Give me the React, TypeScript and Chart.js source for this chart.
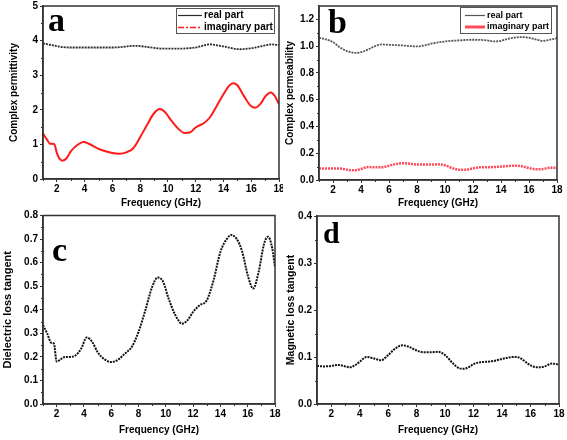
import React, { useEffect, useRef } from "react";
import { Chart, registerables } from "chart.js";

Chart.register(...registerables);

const SANS = "'Liberation Sans', Arial, sans-serif";

// ---------- data ----------
const xTickValues = [2, 4, 6, 8, 10, 12, 14, 16, 18];

// (a) complex permittivity
const freqRealA = [1, 1.5, 2, 2.5, 3, 4, 5, 6, 7, 7.5, 8, 9, 9.5, 10, 11, 11.5, 12, 13, 14, 15.2, 16, 17, 17.4, 18];
const realA = [3.92, 3.88, 3.84, 3.81, 3.8, 3.8, 3.8, 3.8, 3.83, 3.85, 3.84, 3.79, 3.77, 3.77, 3.77, 3.78, 3.8, 3.89, 3.83, 3.75, 3.78, 3.86, 3.89, 3.87];
const freqImagA = [1, 1.3, 1.5, 1.8, 2.0, 2.2, 2.4, 2.7, 3.0, 3.5, 3.9, 4.3, 5, 5.5, 6, 6.5, 7, 7.5, 8, 8.5, 9, 9.4, 9.8, 10.2, 10.7, 11.2, 11.6, 12, 12.6, 13, 13.5, 14, 14.4, 14.7, 15, 15.5, 16, 16.3, 16.7, 17, 17.4, 17.7, 18];
const imagA = [1.31, 1.13, 1.02, 1.01, 0.75, 0.58, 0.53, 0.6, 0.8, 0.99, 1.07, 1.02, 0.87, 0.8, 0.75, 0.73, 0.77, 0.89, 1.21, 1.57, 1.9, 2.02, 1.93, 1.71, 1.47, 1.33, 1.35, 1.49, 1.62, 1.77, 2.1, 2.45, 2.69, 2.77, 2.71, 2.38, 2.1, 2.06, 2.19, 2.38, 2.5, 2.4, 2.16];
const yTicksA = [0, 1, 2, 3, 4, 5];

// (b) complex permeability
const freqRealB = [1, 1.5, 2, 2.5, 3, 3.6, 4, 4.5, 5, 5.5, 6, 7, 8, 8.5, 9, 10, 11, 12, 13, 13.5, 14, 14.5, 15.5, 16, 16.5, 17, 17.5, 18];
const realB = [1.063, 1.05, 1.03, 0.99, 0.963, 0.95, 0.955, 0.975, 1.0, 1.013, 1.01, 1.005, 0.998, 1.005, 1.018, 1.035, 1.043, 1.048, 1.043, 1.035, 1.04, 1.055, 1.068, 1.063, 1.05, 1.04, 1.048, 1.06];
const freqImagB = [1, 2, 2.5, 3, 3.5, 4, 4.5, 5, 5.5, 6, 6.5, 7, 7.5, 8, 9, 9.5, 10, 10.5, 11, 11.5, 12, 12.5, 13, 14, 15, 15.5, 16, 16.5, 17, 17.5, 18];
const imagB = [0.087, 0.085, 0.085, 0.077, 0.072, 0.082, 0.097, 0.095, 0.095, 0.107, 0.12, 0.125, 0.122, 0.115, 0.115, 0.117, 0.11, 0.09, 0.077, 0.077, 0.087, 0.095, 0.095, 0.1, 0.107, 0.102, 0.09, 0.08, 0.082, 0.092, 0.09];
const yTicksB = [0, 0.2, 0.4, 0.6, 0.8, 1.0, 1.2];

// (c) dielectric loss tangent
const freqC = [1, 1.3, 1.6, 1.8, 2.0, 2.3, 2.6, 3, 3.4, 3.8, 4.2, 4.6, 5, 5.5, 6, 6.5, 7, 7.5, 8, 8.5, 9, 9.4, 9.8, 10.2, 10.7, 11.2, 11.6, 12, 12.5, 13, 13.5, 14, 14.5, 14.8, 15.2, 15.6, 16, 16.4, 16.8, 17.2, 17.5, 17.8, 18];
const lossC = [0.334, 0.3, 0.26, 0.256, 0.18, 0.19, 0.2, 0.2, 0.207, 0.235, 0.282, 0.264, 0.22, 0.19, 0.178, 0.188, 0.214, 0.242, 0.306, 0.398, 0.497, 0.537, 0.519, 0.448, 0.377, 0.341, 0.356, 0.391, 0.42, 0.44, 0.526, 0.646, 0.703, 0.717, 0.7, 0.646, 0.547, 0.49, 0.56, 0.68, 0.71, 0.66, 0.58];
const yTicksC = [0, 0.1, 0.2, 0.3, 0.4, 0.5, 0.6, 0.7, 0.8];

// (d) magnetic loss tangent
const freqD = [1, 1.5, 2, 2.5, 3, 3.3, 3.7, 4, 4.5, 5, 5.5, 6, 6.5, 7, 7.5, 8, 8.5, 9, 9.5, 10, 10.5, 11, 11.3, 11.7, 12, 12.5, 13, 13.5, 14, 14.8, 15.2, 15.5, 16, 16.5, 17, 17.5, 18];
const lossD = [0.081, 0.08, 0.081, 0.083, 0.08, 0.078, 0.083, 0.09, 0.1, 0.097, 0.093, 0.104, 0.118, 0.125, 0.121, 0.114, 0.11, 0.11, 0.111, 0.104, 0.088, 0.076, 0.075, 0.079, 0.085, 0.089, 0.09, 0.092, 0.096, 0.1, 0.099, 0.093, 0.082, 0.078, 0.08, 0.086, 0.084];
const yTicksD = [0, 0.1, 0.2, 0.3, 0.4];

const pts = (xs: number[], ys: number[]) => xs.map((x, i) => ({ x, y: ys[i] }));

// ---------- plugin: frame, minor ticks, panel letter, boxed legend ----------
const decorPlugin = {
  id: "decor",
  afterDraw(chart: any, _args: any, opts: any) {
    const { ctx, chartArea } = chart;
    const { left, top, right, bottom } = chartArea;
    const xs = chart.scales.x;
    const ys = chart.scales.y;
    ctx.save();
    ctx.strokeStyle = "#333";
    ctx.lineWidth = 1;
    // minor x ticks
    for (let v = xs.min; v <= xs.max + 1e-9; v += 1) {
      if (xTickValues.includes(v)) continue;
      const px = Math.round(xs.getPixelForValue(v)) + 0.5;
      ctx.beginPath();
      ctx.moveTo(px, bottom);
      ctx.lineTo(px, bottom + 2);
      ctx.stroke();
    }
    // minor y ticks
    for (let v = ys.min + opts.yMinor; v < ys.max - 1e-9; v += opts.yMinor * 2) {
      const py = Math.round(ys.getPixelForValue(v)) + 0.5;
      ctx.beginPath();
      ctx.moveTo(left - 2, py);
      ctx.lineTo(left, py);
      ctx.stroke();
    }
    // frame
    ctx.lineWidth = 1.5;
    ctx.strokeStyle = "#333";
    ctx.strokeRect(left, top, right - left, bottom - top);
    // panel letter
    ctx.fillStyle = "#000";
    ctx.font = `bold ${opts.letterSize}px 'Liberation Serif', 'Times New Roman', serif`;
    ctx.textBaseline = "alphabetic";
    ctx.textAlign = "left";
    ctx.fillText(opts.letter, opts.letterX, opts.letterY);
    // legend
    const lg = opts.legend;
    if (lg) {
      ctx.lineWidth = 1;
      ctx.strokeStyle = "#555";
      ctx.setLineDash([]);
      ctx.strokeRect(lg.x + 0.5, lg.y + 0.5, lg.w, lg.h);
      chart.data.datasets.forEach((ds: any, i: number) => {
        const y = lg.rows[i];
        ctx.save();
        ctx.strokeStyle = ds.borderColor;
        ctx.lineWidth = lg.sampleWidths[i];
        ctx.setLineDash(lg.sampleDash[i]);
        ctx.beginPath();
        ctx.moveTo(lg.lineX1, y);
        ctx.lineTo(lg.lineX2, y);
        ctx.stroke();
        ctx.restore();
        ctx.fillStyle = "#000";
        ctx.font = `bold ${lg.fontSize}px ${SANS}`;
        ctx.textBaseline = "middle";
        ctx.fillText(ds.label, lg.textX, y);
      });
    }
    ctx.restore();
  },
};

type Spec = {
  left: number; top: number; w: number; h: number;
  area: { l: number; t: number; r: number; b: number };
  datasets: any[];
  yTicks: number[]; yMax: number; yDigits: number; yMinor: number;
  yTitle: string; yTitleSize: number; yTitlePad: number;
  xTitlePad: number;
  letter: string; letterSize: number; letterX: number; letterY: number;
  legend?: any;
};

function buildConfig(s: Spec): any {
  const tickFont = { family: SANS, size: 10, weight: "bold" as const };
  return {
    type: "line",
    data: { datasets: s.datasets },
    plugins: [decorPlugin],
    options: {
      responsive: false,
      animation: false,
      devicePixelRatio: 1,
      layout: { padding: { top: s.area.t, right: s.w - s.area.r, left: 0, bottom: 0 } },
      elements: { point: { radius: 0 } },
      plugins: {
        legend: { display: false },
        tooltip: { enabled: false },
        decor: {
          yMinor: s.yMinor,
          letter: s.letter, letterSize: s.letterSize, letterX: s.letterX, letterY: s.letterY,
          legend: s.legend,
        },
      },
      scales: {
        x: {
          type: "linear",
          min: 1,
          max: 18,
          afterBuildTicks: (sc: any) => { sc.ticks = xTickValues.map((v) => ({ value: v })); },
          afterFit: (sc: any) => { sc.height = s.h - s.area.b; sc.paddingLeft = 0; sc.paddingRight = 0; },
          ticks: { font: tickFont, color: "#000", padding: 1, maxRotation: 0, autoSkip: false },
          grid: { drawOnChartArea: false, drawTicks: true, tickLength: 3, color: "#333", lineWidth: 1 },
          border: { color: "#333", width: 1.5 },
          title: {
            display: true, text: "Frequency (GHz)", color: "#000",
            font: { family: SANS, size: 10, weight: "bold" },
            padding: { top: 0, bottom: s.xTitlePad },
          },
        },
        y: {
          type: "linear",
          min: 0,
          max: s.yMax,
          afterBuildTicks: (sc: any) => { sc.ticks = s.yTicks.map((v) => ({ value: v })); },
          afterFit: (sc: any) => { sc.width = s.area.l; sc.paddingTop = 0; sc.paddingBottom = 0; },
          ticks: {
            font: tickFont, color: "#000", padding: 2, autoSkip: false,
            callback: (v: number) => v.toFixed(s.yDigits),
          },
          grid: { drawOnChartArea: false, drawTicks: true, tickLength: 3, color: "#333", lineWidth: 1 },
          border: { color: "#333", width: 1.5 },
          title: {
            display: true, text: s.yTitle, color: "#000",
            font: { family: SANS, size: s.yTitleSize, weight: "bold" },
            padding: { top: s.yTitlePad, bottom: 0 },
          },
        },
      },
    },
  };
}

const lineDs = (label: string, xs: number[], ys: number[], color: string, width: number, dash: number[]) => ({
  label,
  data: pts(xs, ys),
  borderColor: color,
  backgroundColor: color,
  borderWidth: width,
  borderDash: dash,
  cubicInterpolationMode: "monotone",
  pointRadius: 0,
  fill: false,
});

const specs: Spec[] = [
  {
    left: 0, top: 0, w: 283, h: 215,
    area: { l: 43, t: 6, r: 279, b: 179 },
    datasets: [
      lineDs("real part", freqRealA, realA, "#2a2a2a", 1.8, [2, 1]),
      lineDs("imaginary part", freqImagA, imagA, "#ff1a1a", 2, []),
    ],
    yTicks: yTicksA, yMax: 5, yDigits: 0, yMinor: 0.5,
    yTitle: "Complex permittivity", yTitleSize: 10, yTitlePad: 8, xTitlePad: 6,
    letter: "a", letterSize: 34, letterX: 48, letterY: 31,
    legend: {
      x: 176, y: 8, w: 98, h: 25, lineX1: 178, lineX2: 202, textX: 204, fontSize: 10,
      rows: [15.5, 27.5], sampleWidths: [1.2, 1.5], sampleDash: [[], [6, 2, 2, 2]],
    },
  },
  {
    left: 283, top: 0, w: 284, h: 215,
    area: { l: 36, t: 6, r: 274, b: 180 },
    datasets: [
      lineDs("real part", freqRealB, realB, "#555555", 1.8, [2, 1]),
      lineDs("imaginary part", freqImagB, imagB, "#ff4a5a", 2.5, [2, 1]),
    ],
    yTicks: yTicksB, yMax: 1.3, yDigits: 1, yMinor: 0.1,
    yTitle: "Complex permeability", yTitleSize: 10, yTitlePad: 1.5, xTitlePad: 6,
    letter: "b", letterSize: 34, letterX: 45, letterY: 33,
    legend: {
      x: 177, y: 7, w: 91, h: 26, lineX1: 182, lineX2: 202, textX: 204, fontSize: 9,
      rows: [15.5, 27], sampleWidths: [1.2, 3], sampleDash: [[], []],
    },
  },
  {
    left: 0, top: 205, w: 283, h: 235,
    area: { l: 43, t: 10.5, r: 275, b: 199 },
    datasets: [lineDs("Dielectric loss tangent", freqC, lossC, "#111111", 2, [2, 1])],
    yTicks: yTicksC, yMax: 0.8, yDigits: 1, yMinor: 0.05,
    yTitle: "Dielectric loss tangent", yTitleSize: 11, yTitlePad: 1.5, xTitlePad: 4,
    letter: "c", letterSize: 34, letterX: 52, letterY: 56,
  },
  {
    left: 283, top: 205, w: 284, h: 235,
    area: { l: 34, t: 11, r: 276, b: 199 },
    datasets: [lineDs("Magnetic loss tangent", freqD, lossD, "#111111", 2, [2, 1])],
    yTicks: yTicksD, yMax: 0.4, yDigits: 1, yMinor: 0.05,
    yTitle: "Magnetic loss tangent", yTitleSize: 10.5, yTitlePad: 2, xTitlePad: 3.5,
    letter: "d", letterSize: 30, letterX: 40, letterY: 38,
  },
];

function Panel({ spec }: { spec: Spec }) {
  const ref = useRef<HTMLCanvasElement>(null);
  useEffect(() => {
    const chart = new Chart(ref.current as HTMLCanvasElement, buildConfig(spec));
    return () => chart.destroy();
  }, [spec]);
  return (
    <div style={{ position: "absolute", left: spec.left, top: spec.top, width: spec.w, height: spec.h }}>
      <canvas ref={ref} width={spec.w} height={spec.h} style={{ width: spec.w, height: spec.h, display: "block" }} />
    </div>
  );
}

export default function App() {
  return (
    <div style={{ position: "fixed", left: 0, top: 0, width: 567, height: 440, background: "#fff", overflow: "hidden" }}>
      {specs.map((s, i) => (
        <Panel key={i} spec={s} />
      ))}
    </div>
  );
}
